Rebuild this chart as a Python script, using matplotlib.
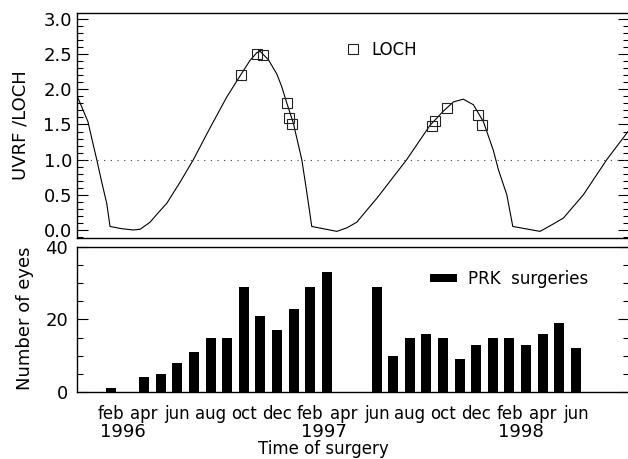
import matplotlib
matplotlib.use('Agg')
from matplotlib import pyplot as plt
from matplotlib.ticker import MultipleLocator, FormatStrFormatter
import matplotlib.transforms as mtransforms

# month index: jan 1996 = 0
curve_month = [-1.05, -0.39, -0.08, 0.14, 0.44, 0.74, 0.94, 1.6, 2.33, 2.75,
               3.35, 3.75, 4.36, 5.16, 5.96, 6.96, 7.97, 8.77, 9.37, 9.78,
               9.98, 10.48, 10.98, 11.28, 11.54, 11.98, 12.49, 12.79, 13.09,
               14.6, 15.2, 15.8, 16.4, 17.01, 18.81, 20.22, 21.02, 21.62,
               22.22, 22.83, 23.43, 24.03, 24.33, 24.84, 25.2, 26.84, 27.6,
               28.25, 29.45, 30.86, 32.14]
curve_value = [1.91, 1.54, 1.22, 1.0, 0.68, 0.38, 0.05, 0.02, 0.0, 0.01,
               0.11, 0.22, 0.38, 0.68, 1.0, 1.45, 1.89, 2.19, 2.41, 2.52,
               2.54, 2.42, 2.22, 2.04, 1.84, 1.52, 1.0, 0.54, 0.05,
               -0.02, 0.03, 0.11, 0.28, 0.45, 1.0, 1.49, 1.69, 1.82,
               1.86, 1.78, 1.54, 1.13, 0.86, 0.5, 0.05, -0.02, 0.08,
               0.17, 0.5, 1.0, 1.40]

loch_month = [8.81, 9.78, 10.17, 11.58, 11.74, 11.90, 20.32, 20.52, 21.22, 23.13, 23.33]
loch_value = [2.21, 2.50, 2.49, 1.81, 1.59, 1.51, 1.48, 1.55, 1.73, 1.64, 1.49]

ref_level = 1.0

bar_month = list(range(1, 30))  # feb 1996 .. jun 1998
bar_count = [1, 0, 4, 5, 8, 11, 15, 15, 29, 21, 17, 23,
             29, 33, 0, 0, 29, 10, 15, 16, 15, 9, 13, 15,
             15, 13, 16, 19, 12]

tick_month = list(range(1, 30, 2))
tick_labels = ['feb', 'apr', 'jun', 'aug', 'oct', 'dec',
               'feb', 'apr', 'jun', 'aug', 'oct', 'dec',
               'feb', 'apr', 'jun']
year_labels = ['1996', '1997', '1998']
year_month = [1.7, 13.8, 25.7]

plt.rcParams['font.family'] = ['DejaVu Sans']

fig = plt.figure(figsize=(6.28, 4.59), dpi=100)
ax1 = fig.add_axes([0.1226, 0.4815, 0.879, 0.4902])
ax2 = fig.add_axes([0.1226, 0.1460, 0.879, 0.3159])

# top panel
ax1.plot(curve_month, curve_value, color='black', lw=0.8)
ax1.axhline(ref_level, color='#444444', lw=0.8, ls=(0, (1, 5)))
ax1.plot(loch_month, loch_value, ls='none', marker='s', ms=6.5, mfc='none',
         mec='#222222', mew=0.8, label='LOCH')
ax1.set_xlim(-1.05, 32.2)
ax1.set_ylim(-0.114, 3.085)
ax1.yaxis.set_major_locator(MultipleLocator(0.5))
ax1.yaxis.set_minor_locator(MultipleLocator(0.1))
ax1.yaxis.set_major_formatter(FormatStrFormatter('%.1f'))
ax1.tick_params(axis='y', which='both', direction='in', left=True, right=True,
                labelsize=13, pad=3.6, width=0.8)
ax1.tick_params(axis='y', which='major', length=7.9)
ax1.tick_params(axis='y', which='minor', length=4.3)
ax1.tick_params(axis='x', which='both', length=0, labelbottom=False)
ax1.set_ylabel('UVRF /LOCH', fontsize=13, va='center')
ax1.yaxis.set_label_coords(-0.103, 0.5)
ax1.legend(loc='center left', bbox_to_anchor=(0.5489, 0.891),
           bbox_transform=fig.transFigure, frameon=False, fontsize=12,
           numpoints=1, handlelength=1.0, handletextpad=0.6,
           borderpad=0, borderaxespad=0)

# bottom panel
ax2.bar(bar_month, bar_count, width=0.6, color='black', label='PRK  surgeries')
ax2.set_xlim(-1.05, 32.2)
ax2.set_ylim(0, 40)
ax2.yaxis.set_major_locator(MultipleLocator(20))
ax2.yaxis.set_minor_locator(MultipleLocator(5))
ax2.tick_params(axis='y', which='both', direction='in', left=True, right=True,
                labelsize=13, pad=6.5, width=0.8)
ax2.tick_params(axis='y', which='major', length=7.9)
ax2.tick_params(axis='y', which='minor', length=4.3)
ax2.set_xticks(tick_month)
ax2.set_xticklabels(tick_labels, fontsize=12)
ax2.tick_params(axis='x', which='both', length=0, pad=9.4)
trans = mtransforms.blended_transform_factory(ax2.transData, ax2.transAxes)
for yr, m in zip(year_labels, year_month):
    ax2.text(m, -0.31, yr, transform=trans, ha='center', va='baseline', fontsize=13)
ax2.set_xlabel('Time of surgery', fontsize=12, va='baseline')
ax2.xaxis.set_label_coords(0.4457, -0.425)
ax2.set_ylabel('Number of eyes', fontsize=13, va='center')
ax2.yaxis.set_label_coords(-0.094, 0.51)
ax2.legend(loc='center left', bbox_to_anchor=(0.6847, 0.3922),
           bbox_transform=fig.transFigure, frameon=False, fontsize=12,
           handlelength=1.6, handleheight=0.4, handletextpad=0.66,
           borderpad=0, borderaxespad=0)

for ax in (ax1, ax2):
    for sp in ax.spines.values():
        sp.set_linewidth(1.0)

fig.savefig('out.png', dpi=100)
